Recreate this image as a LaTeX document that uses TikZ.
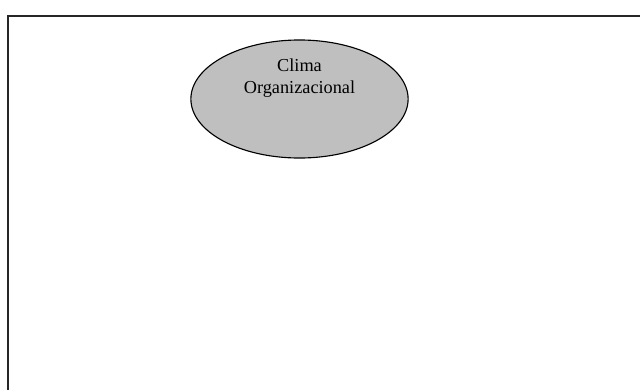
\documentclass[tikz,border=0pt]{standalone}
\usepackage{fontspec}
\setmainfont{Liberation Serif}
\usetikzlibrary{shapes.geometric}
\tikzset{
	every frame/.style={line width=1.3pt,draw=black!85},
	climabox/.style={ellipse,draw=black,line width=0.8pt,fill=black!25,minimum width=5.43cm,minimum height=2.95cm,inner sep=0pt}
	}

\begin{document}
\begin{tikzpicture}[x=0.025cm,y=-0.025cm,text depth=0.25ex]
		\path[use as bounding box] (0,0) rectangle (640,390);
		\tikzstyle{every node}=[font=\fontsize{13}{15.6}\selectfont]

		%% Frame (runs off the page to the right and below)
		\coordinate (fr) at (640,16);
		\coordinate (ftl) at (8,16);
		\coordinate (fb) at (8,390);
		\draw[every frame] (fr) -- (ftl) -- (fb);

		%% Ellipse
		\draw (299.5,99) node[climabox] (clima) {};
		\draw (clima.center) ++(0,-22) node[align=center] (climatext) {Clima\\Organizacional};

	\end{tikzpicture}
\end{document}
